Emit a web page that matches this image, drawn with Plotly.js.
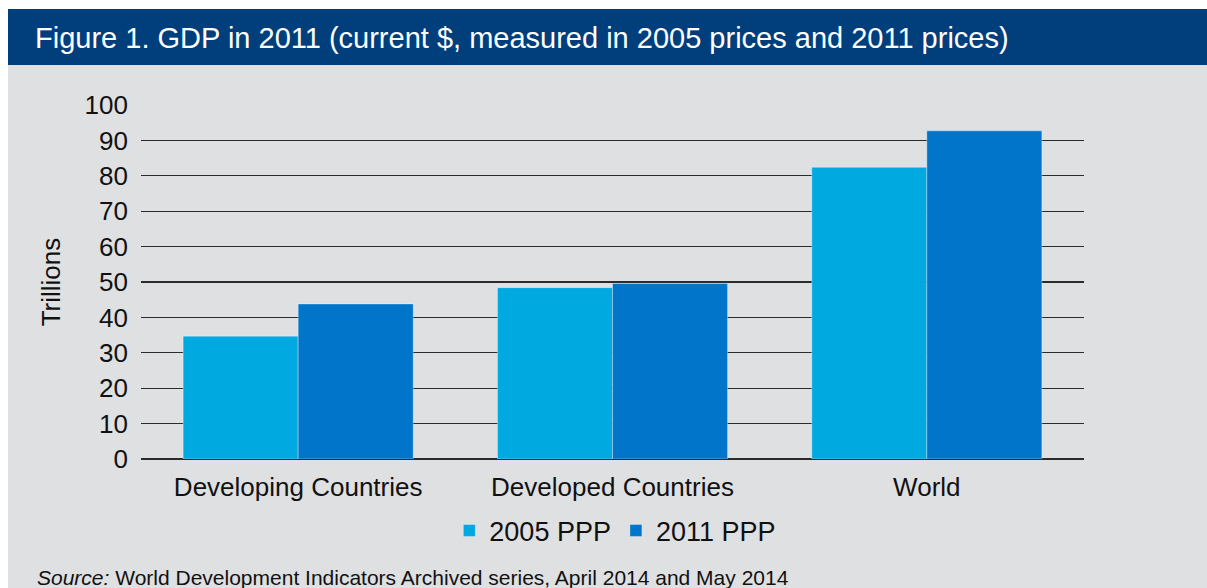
<!DOCTYPE html>
<html>
<head>
<meta charset="utf-8">
<script src="https://cdn.plot.ly/plotly-3.0.1.min.js"></script>
<style>
  html, body { margin: 0; padding: 0; background: #ffffff; }
  #chart { width: 1207px; height: 588px; }
</style>
</head>
<body>
<div id="chart"></div>
<script>
// values (trillions)
const categories = ['Developing Countries', 'Developed Countries', 'World'];
const ppp2005 = [34.7, 48.4, 82.4];
const ppp2011 = [43.8, 49.6, 92.7];
const yTicks = [0, 10, 20, 30, 40, 50, 60, 70, 80, 90, 100];

const font = 'Liberation Sans, Arial, sans-serif';

const traces = [
  {
    type: 'bar',
    name: '2005 PPP',
    x: categories,
    y: ppp2005,
    marker: { color: '#00a9e0', line: { color: 'rgba(255,255,255,0.35)', width: 1 } }
  },
  {
    type: 'bar',
    name: '2011 PPP',
    x: categories,
    y: ppp2011,
    marker: { color: '#0075c9', line: { color: 'rgba(255,255,255,0.35)', width: 1 } }
  }
];

const layout = {
  width: 1207,
  height: 588,
  margin: { l: 141, r: 123, t: 105, b: 129 },
  paper_bgcolor: '#dfe0e2',
  plot_bgcolor: '#dfe0e2',
  font: { family: font, color: '#111111', size: 26 },
  barmode: 'group',
  bargap: 0.268,
  bargroupgap: 0,
  showlegend: true,
  title: {
    text: 'Figure 1. GDP in 2011 (current $, measured in 2005 prices and 2011 prices)',
    x: 35 / 1207,
    xanchor: 'left',
    xref: 'container',
    y: 1 - 38 / 588,
    yanchor: 'middle',
    yref: 'container',
    font: { family: font, size: 29, color: '#ffffff' }
  },
  xaxis: {
    type: 'category',
    showgrid: false,
    showline: false,
    ticks: '',
    tickfont: { size: 26, color: '#111111' },
    ticklabelstandoff: 10
  },
  yaxis: {
    range: [0, 100],
    tickvals: yTicks,
    showgrid: true,
    gridcolor: '#2b2b2b',
    gridwidth: 1.3,
    zeroline: true,
    zerolinecolor: '#2b2b2b',
    zerolinewidth: 1.5,
    showline: false,
    ticks: '',
    tickfont: { size: 26, color: '#111111' },
    ticklabelstandoff: 12,
    title: { text: 'Trillions', font: { size: 26, color: '#111111' }, standoff: 16 }
  },
  legend: {
    orientation: 'h',
    x: 0.503,
    xanchor: 'center',
    y: -0.203,
    yanchor: 'middle',
    bgcolor: 'rgba(0,0,0,0)',
    font: { size: 27, color: '#111111' },
    itemwidth: 30
  },
  shapes: [
    // dark blue title band
    { type: 'rect', xref: 'paper', yref: 'paper', x0: -0.14104, x1: 1.1305, y0: 1.11299, y1: 1.27119,
      fillcolor: '#013e7c', line: { width: 0 }, layer: 'below' },
    // white frame strips (top and left)
    { type: 'rect', xref: 'paper', yref: 'paper', x0: -0.1496, x1: 1.1305, y0: 1.27119, y1: 1.2967,
      fillcolor: '#ffffff', line: { width: 0 }, layer: 'below' },
    { type: 'rect', xref: 'paper', yref: 'paper', x0: -0.1496, x1: -0.14104, y0: -0.3645, y1: 1.2967,
      fillcolor: '#ffffff', line: { width: 0 }, layer: 'below' }
  ],
  annotations: [
    {
      text: '<i>Source:</i> World Development Indicators Archived series, April 2014 and May 2014',
      xref: 'paper', yref: 'paper',
      x: (35 - 141) / 943, xanchor: 'left',
      y: (459 - 577) / 354, yanchor: 'middle',
      showarrow: false,
      font: { family: font, size: 21, color: '#111111' }
    }
  ]
};

Plotly.newPlot('chart', traces, layout, { displayModeBar: false, staticPlot: true });
</script>
</body>
</html>
